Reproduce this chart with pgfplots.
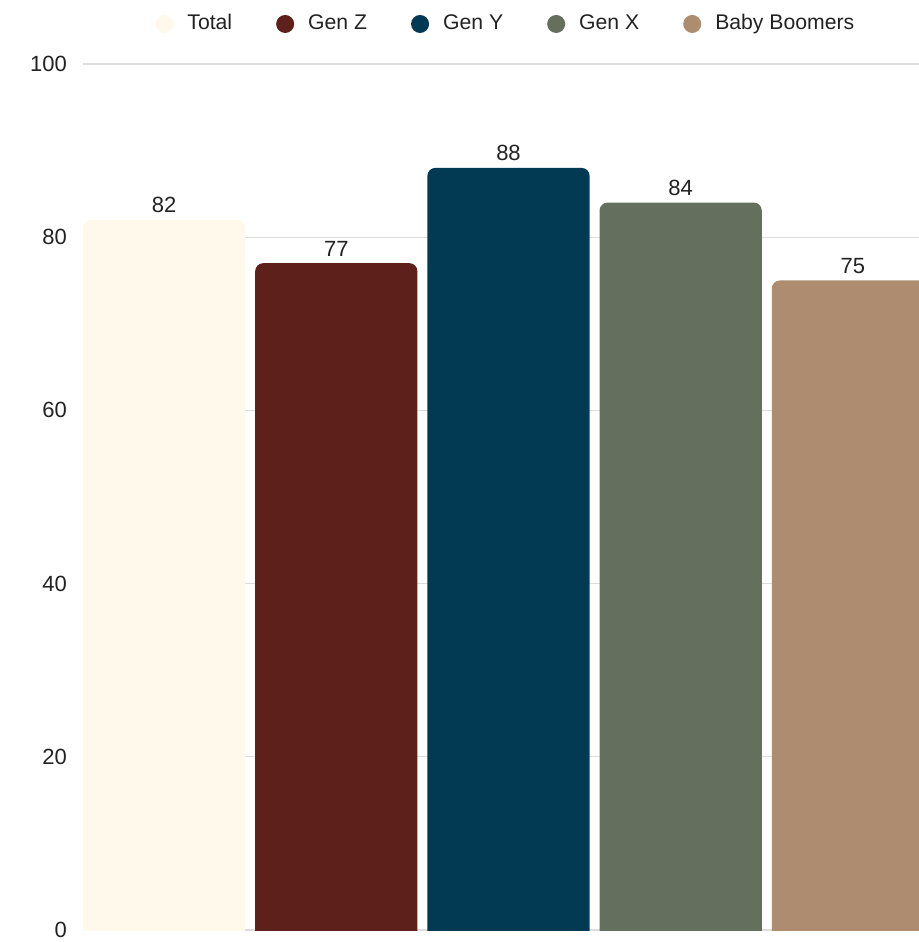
\documentclass[border=0pt]{standalone}
\usepackage{pgfplots}
\pgfplotsset{compat=1.18}
\usepackage{fontspec}
\setmainfont{Liberation Sans}

\definecolor{cTotal}{HTML}{FEF9EB}
\definecolor{cGenZ}{HTML}{5E201B}
\definecolor{cGenY}{HTML}{023A54}
\definecolor{cGenX}{HTML}{646F5D}
\definecolor{cBoom}{HTML}{AD8C70}
\definecolor{gridgray}{HTML}{DDDDDD}
\definecolor{inkgray}{HTML}{222222}

\begin{document}
\begin{tikzpicture}
\begin{axis}[
  name=ax,
  scale only axis,
  width=418pt, height=433pt,
  xmin=-0.471, xmax=4.384,
  ymin=0, ymax=100,
  ytick={0,20,...,100},
  xtick=\empty,
  axis line style={draw=none},
  major tick length=0pt,
  ymajorgrids,
  grid style={draw=gridgray, line width=0.6pt},
  tick label style={font=\fontsize{11}{13}\selectfont, text=inkgray},
  /pgf/number format/assume math mode=true,
  yticklabel style={xshift=-4.5pt},
  legend columns=-1,
  legend style={
    at={(0.507,1.0462)}, anchor=center,
    draw=none, fill=none,
    font=\fontsize{10.6}{13}\selectfont, text=inkgray,
    nodes={text height=1.55ex, text depth=0.45ex},
    /tikz/every even column/.append style={column sep=20pt},
  },
  % round swatch with a little room before the entry text
  legend image code/.code={\fill[#1] (0pt,0pt) circle (4.5pt); \path (9.5pt,0pt);},
  nodes near coords style={font=\fontsize{11}{13}\selectfont, text=inkgray},
]
% bars: rounded tops; the square bottoms run below y=0 and are clipped away
\addplot[fill=cTotal, draw=none, rounded corners=4pt]
  coordinates {(-0.471,-5) (-0.471,82) (0.471,82) (0.471,-5)};
\addlegendentry{Total}
\addplot[fill=cGenZ, draw=none, rounded corners=4pt]
  coordinates {(0.529,-5) (0.529,77) (1.471,77) (1.471,-5)};
\addlegendentry{Gen Z}
\addplot[fill=cGenY, draw=none, rounded corners=4pt]
  coordinates {(1.529,-5) (1.529,88) (2.471,88) (2.471,-5)};
\addlegendentry{Gen Y}
\addplot[fill=cGenX, draw=none, rounded corners=4pt]
  coordinates {(2.529,-5) (2.529,84) (3.471,84) (3.471,-5)};
\addlegendentry{Gen X}
\addplot[fill=cBoom, draw=none, rounded corners=4pt]
  coordinates {(3.529,-5) (3.529,75) (4.471,75) (4.471,-5)};
\addlegendentry{Baby Boomers}
% value labels above each bar
\addplot[draw=none, mark=none, forget plot, nodes near coords,
  every node near coord/.append style={anchor=south}]
  coordinates {(0,82) (1,77) (2,88) (3,84) (4,75)};
\end{axis}
\pgfresetboundingbox
\path[use as bounding box] ([shift={(-41.5pt,-6pt)}]ax.south west)
  rectangle ([shift={(0pt,465pt)}]ax.south east);
\end{tikzpicture}
\end{document}
